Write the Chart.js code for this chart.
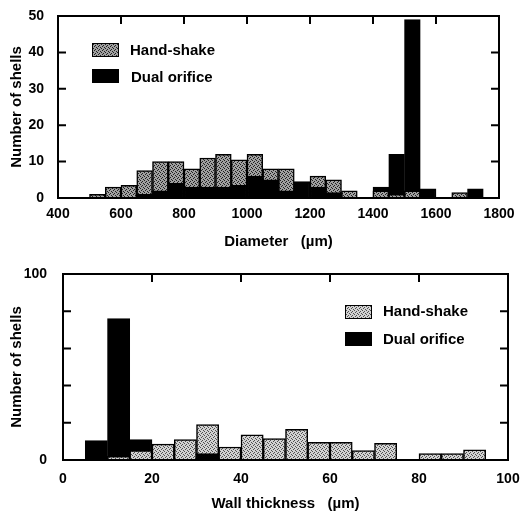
<!DOCTYPE html>
<html>
<head>
<meta charset="utf-8">
<script src="https://cdn.jsdelivr.net/npm/chart.js@4.4.0/dist/chart.umd.min.js"></script>
<style>
  html, body { margin: 0; padding: 0; background: #fff; }
  #wrap { position: relative; width: 523px; height: 511px; overflow: hidden; }
  .panel { position: absolute; left: 0; width: 523px; }
  #panelTop { top: 0; height: 255px; }
  #panelBottom { top: 255px; height: 256px; }
  .leg { position: absolute; font: bold 15px "Liberation Sans", Arial, sans-serif; line-height: 18px; color: #000; white-space: nowrap; }
  .sw { position: absolute; width: 27px; height: 14px; border: 1.5px solid #000; box-sizing: border-box; }
</style>
</head>
<body>
<div id="wrap">
  <div class="panel" id="panelTop"><canvas id="chartTop"></canvas></div>
  <div class="panel" id="panelBottom"><canvas id="chartBottom"></canvas></div>

  <div class="sw" id="swTopHand" style="left:92px; top:43px;"></div>
  <div class="leg" style="left:130px; top:41px;">Hand-shake</div>
  <div class="sw" style="left:92px; top:69px; background:#000;"></div>
  <div class="leg" style="left:131px; top:68px;">Dual orifice</div>

  <div class="sw" id="swBottomHand" style="left:345px; top:305px;"></div>
  <div class="leg" style="left:383px; top:302px;">Hand-shake</div>
  <div class="sw" style="left:345px; top:332px; background:#000;"></div>
  <div class="leg" style="left:383px; top:330px;">Dual orifice</div>
</div>

<script>
// Diámetro (µm): inicio de cada intervalo de 50 µm
const diamBins = [500, 550, 600, 650, 700, 750, 800, 850, 900, 950, 1000, 1050, 1100,
                  1150, 1200, 1250, 1300, 1350, 1400, 1450, 1500, 1550, 1600, 1650, 1700];
const diamHandShake = [1, 3, 3.5, 7.5, 10, 10, 8, 11, 12, 10.5, 12, 8, 8,
                       0, 6, 5, 2, 0, 2, 1, 2, 0, 0, 1.5, 0];
const diamDual = [0, 0, 0, 1, 2, 4, 3, 3, 3, 3.5, 6, 5, 2,
                  4.5, 3, 1.5, 0, 0, 3, 12, 49, 2.5, 0, 0, 2.5];

// Espesor de pared (µm): inicio de cada intervalo de 5 µm
const wallBins = [5, 10, 15, 20, 25, 30, 35, 40, 45, 50, 55, 60, 65, 70, 75, 80, 85, 90];
const wallHandShake = [0, 2, 5, 8.5, 11, 19, 7, 13.5, 11.5, 16.5, 9.5, 9.5, 5, 9, 0, 3.5, 3.5, 5.5];
const wallDual = [10.5, 76, 11, 0, 0, 3.5, 0, 0, 0, 0, 0, 0, 0, 0, 0, 0, 0, 0];

const FONT = '"Liberation Sans", Arial, sans-serif';

/**
 * Crea un pequeño canvas con textura punteada gris
 */
function makeStipple(bg, dot) {
    const c = document.createElement('canvas');
    c.width = 4; c.height = 4;
    const g = c.getContext('2d');
    g.fillStyle = bg;
    g.fillRect(0, 0, 4, 4);
    g.fillStyle = dot;
    g.fillRect(0, 0, 1, 1);
    g.fillRect(2, 1, 1, 1);
    g.fillRect(1, 2, 1, 1);
    g.fillRect(3, 3, 1, 1);
    return c;
}

// Marco y marcas hacia dentro (arriba, izquierda, derecha)
const frameTicks = {
    id: 'frameTicks',
    afterDatasetsDraw(chart) {
        const { ctx, chartArea: a, scales: { x, y } } = chart;
        const len = 8;
        ctx.save();
        ctx.strokeStyle = '#000';
        ctx.lineWidth = 2;
        ctx.beginPath();
        x.ticks.forEach(t => {
            if (t.value <= x.min || t.value >= x.max) return;
            const px = x.getPixelForValue(t.value);
            ctx.moveTo(px, a.top);
            ctx.lineTo(px, a.top + len);
        });
        y.ticks.forEach(t => {
            if (t.value <= y.min || t.value >= y.max) return;
            const py = y.getPixelForValue(t.value);
            ctx.moveTo(a.left, py);
            ctx.lineTo(a.left + len, py);
            ctx.moveTo(a.right, py);
            ctx.lineTo(a.right - len, py);
        });
        ctx.stroke();
        ctx.strokeRect(a.left, a.top, a.right - a.left, a.bottom - a.top);
        ctx.restore();
    }
};

/**
 * Histograma superpuesto: la barra menor de cada intervalo queda al frente
 */
function initHistogram(canvasId, cfg) {
    const canvas = document.getElementById(canvasId);
    const pattern = canvas.getContext('2d').createPattern(cfg.stipple, 'repeat');
    const half = cfg.binWidth / 2;
    const pts = vals => cfg.bins.map((b, i) => ({ x: b + half, y: vals[i] || null }));
    const front = cfg.bins.map((b, i) => ({
        x: b + half,
        y: Math.min(cfg.hand[i], cfg.dual[i]) || null
    }));

    const common = {
        grouped: false,
        barPercentage: 1,
        categoryPercentage: 1,
        borderColor: '#000',
        borderWidth: 1.5,
        borderSkipped: 'bottom'
    };

    return new Chart(canvas, {
        type: 'bar',
        data: {
            datasets: [
                Object.assign({ label: 'front', data: front, order: 0,
                    backgroundColor: c => (cfg.hand[c.dataIndex] <= cfg.dual[c.dataIndex] ? pattern : '#000') }, common),
                Object.assign({ label: 'Hand-shake', data: pts(cfg.hand), order: 1, backgroundColor: pattern }, common),
                Object.assign({ label: 'Dual orifice', data: pts(cfg.dual), order: 2, backgroundColor: '#000' }, common)
            ]
        },
        options: {
            responsive: true,
            maintainAspectRatio: false,
            animation: false,
            layout: { padding: cfg.padding },
            plugins: { legend: { display: false }, tooltip: { enabled: false } },
            scales: {
                x: {
                    type: 'linear',
                    offset: false,
                    min: cfg.xMin, max: cfg.xMax,
                    grid: { display: false },
                    border: { display: false },
                    ticks: { stepSize: cfg.xStep, maxRotation: 0, color: '#000', padding: cfg.xTickPad,
                             callback: v => String(v),
                             font: { family: FONT, size: 14, weight: 'bold' } },
                    title: { display: true, text: cfg.xTitle, color: '#000', padding: { top: 0, bottom: cfg.xTitlePad },
                             font: { family: FONT, size: 15, weight: 'bold', lineHeight: 1 } },
                    afterFit: s => { s.height = cfg.xHeight; }
                },
                y: {
                    min: 0, max: cfg.yMax,
                    grid: { display: false },
                    border: { display: false },
                    ticks: { stepSize: cfg.yStep, color: '#000', padding: cfg.yTickPad,
                             callback: cfg.yLabel,
                             font: { family: FONT, size: 14, weight: 'bold' } },
                    title: { display: true, text: 'Number of shells', color: '#000', padding: { top: 9, bottom: 0 },
                             font: { family: FONT, size: 15, weight: 'bold', lineHeight: 1 } },
                    afterFit: s => { s.width = cfg.yWidth; }
                }
            }
        },
        plugins: [frameTicks]
    });
}

const stippleTop = makeStipple('#a0a0a0', '#202020');
const stippleBottom = makeStipple('#d2d2d2', '#505050');
document.getElementById('swTopHand').style.backgroundImage = 'url(' + stippleTop.toDataURL() + ')';
document.getElementById('swBottomHand').style.backgroundImage = 'url(' + stippleBottom.toDataURL() + ')';

initHistogram('chartTop', {
    bins: diamBins, hand: diamHandShake, dual: diamDual, binWidth: 50,
    stipple: stippleTop,
    xMin: 400, xMax: 1800, xStep: 200, yMax: 50, yStep: 10,
    xTitle: 'Diameter   (\u00b5m)',
    yLabel: v => String(v),
    padding: { top: 16, right: 24, left: 0, bottom: 0 },
    xHeight: 57, yWidth: 58, xTickPad: 0, yTickPad: 6, xTitlePad: 6
});

initHistogram('chartBottom', {
    bins: wallBins, hand: wallHandShake, dual: wallDual, binWidth: 5,
    stipple: stippleBottom,
    xMin: 0, xMax: 100, xStep: 20, yMax: 100, yStep: 20,
    xTitle: 'Wall thickness   (\u00b5m)',
    yLabel: v => (v === 0 || v === 100 ? String(v) : ''),
    padding: { top: 19, right: 15, left: 0, bottom: 0 },
    xHeight: 51, yWidth: 63, xTickPad: 3, yTickPad: 8, xTitlePad: 0
});
</script>
</body>
</html>
